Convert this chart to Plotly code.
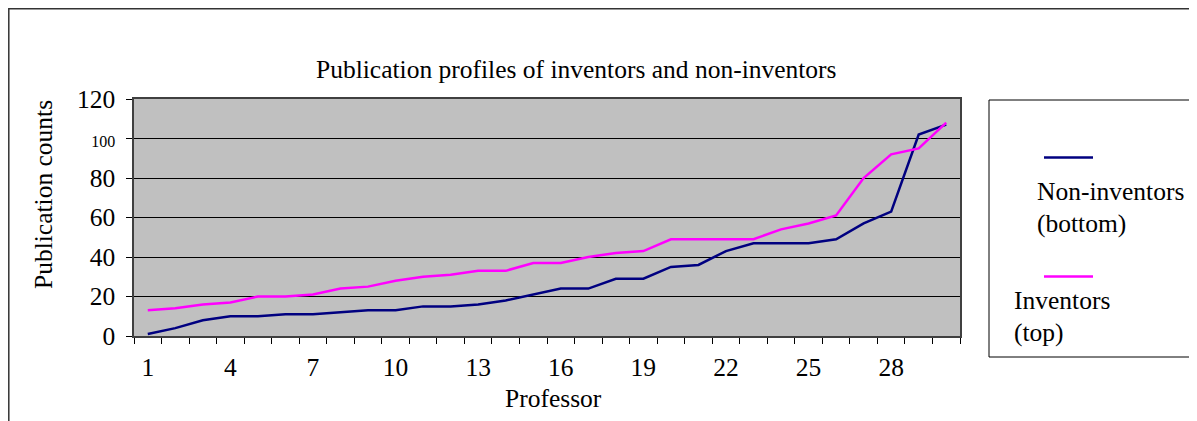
import plotly.graph_objects as go

professors = list(range(1, 31))
non_inventors = [1, 4, 8, 10, 10, 11, 11, 12, 13, 13, 15, 15, 16, 18, 21, 24, 24, 29, 29, 35,
                 36, 43, 47, 47, 47, 49, 57, 63, 102, 107]
inventors = [13, 14, 16, 17, 20, 20, 21, 24, 25, 28, 30, 31, 33, 33, 37, 37, 40, 42, 43, 49,
             49, 49, 49, 54, 57, 61, 80, 92, 95, 108]
x_tick_vals = [1, 4, 7, 10, 13, 16, 19, 22, 25, 28]
y_tick_vals = [0, 20, 40, 60, 80, 100, 120]
y_tick_text = ["0", "20", "40", "60", "80", "<span style='font-size:16px'>100</span>", "120"]

OFF = 8  # page body margin
W, H = 1197 - OFF, 421 - OFF
# plot area in screen pixels
SL, SR, ST, SB = 134, 960, 99, 336
L, R, T, B = SL - OFF, SR - OFF, ST - OFF, SB - OFF

def px(x):
    return (x - SL) / (SR - SL)

def py(y):
    return (SB - y) / (SB - ST)

FONT = "Liberation Serif, Times New Roman, serif"
FS = 25.5

fig = go.Figure()
fig.add_trace(go.Scatter(x=professors, y=non_inventors, mode="lines",
                         line=dict(color="#000080", width=2.5), name="Non-inventors (bottom)"))
fig.add_trace(go.Scatter(x=professors, y=inventors, mode="lines",
                         line=dict(color="#FF00FF", width=2.5), name="Inventors (top)"))

fig.update_layout(
    width=W, height=H,
    margin=dict(l=L, r=W - R, t=T, b=H - B, pad=0),
    paper_bgcolor="white", plot_bgcolor="#C0C0C0",
    showlegend=False,
    font=dict(family=FONT, size=FS, color="black"),
)
fig.update_xaxes(
    range=[0.5, 30.5], tickmode="array", tickvals=x_tick_vals,
    ticks="", ticklen=0, showgrid=False, zeroline=False,
    showline=True, linecolor="#404040", linewidth=1.5, mirror=True,
    tickfont=dict(size=FS), ticklabelstandoff=8,
    minor=dict(tickmode="array", tickvals=[i + 0.5 for i in range(0, 31)],
               ticks="outside", ticklen=6, tickcolor="black", tickwidth=1, showgrid=False),
)
fig.update_yaxes(
    range=[0, 120], tickmode="array", tickvals=y_tick_vals, ticktext=y_tick_text,
    ticks="outside", ticklen=6, tickcolor="black",
    showgrid=True, gridcolor="black", gridwidth=1, zeroline=False,
    showline=True, linecolor="#404040", linewidth=1.5, mirror=True,
    tickfont=dict(size=FS), ticklabelstandoff=6,
)

shapes = [
    # outer chart frame
    dict(type="rect", xref="paper", yref="paper",
         x0=px(8.8), x1=px(1215), y0=py(440), y1=py(8.8),
         line=dict(color="#333333", width=1.5), fillcolor="rgba(0,0,0,0)", layer="below"),
    # legend box
    dict(type="rect", xref="paper", yref="paper",
         x0=px(989), x1=px(1215), y0=py(357), y1=py(100),
         line=dict(color="black", width=1), fillcolor="white"),
    dict(type="line", xref="paper", yref="paper",
         x0=px(1044), x1=px(1093), y0=py(157.5), y1=py(157.5),
         line=dict(color="#000080", width=2.5)),
    dict(type="line", xref="paper", yref="paper",
         x0=px(1044), x1=px(1093), y0=py(276.5), y1=py(276.5),
         line=dict(color="#FF00FF", width=2.5)),
]
fig.update_layout(shapes=shapes)

ann = [
    dict(text="Publication profiles of inventors and non-inventors", x=px(576), y=py(70),
         xanchor="center", yanchor="middle"),
    dict(text="Publication counts", x=px(43), y=py(195), textangle=-90,
         xanchor="center", yanchor="middle"),
    dict(text="Professor", x=px(553), y=py(398),
         xanchor="center", yanchor="middle"),
    dict(text="Non-inventors", x=px(1035), y=py(191), xanchor="left", yanchor="middle"),
    dict(text="(bottom)", x=px(1035), y=py(223), xanchor="left", yanchor="middle"),
    dict(text="Inventors", x=px(1012), y=py(300), xanchor="left", yanchor="middle"),
    dict(text="(top)", x=px(1012), y=py(332), xanchor="left", yanchor="middle"),
]
for a in ann:
    a.update(xref="paper", yref="paper", showarrow=False, font=dict(size=FS))
fig.update_layout(annotations=ann)

fig.write_html("out.html")
